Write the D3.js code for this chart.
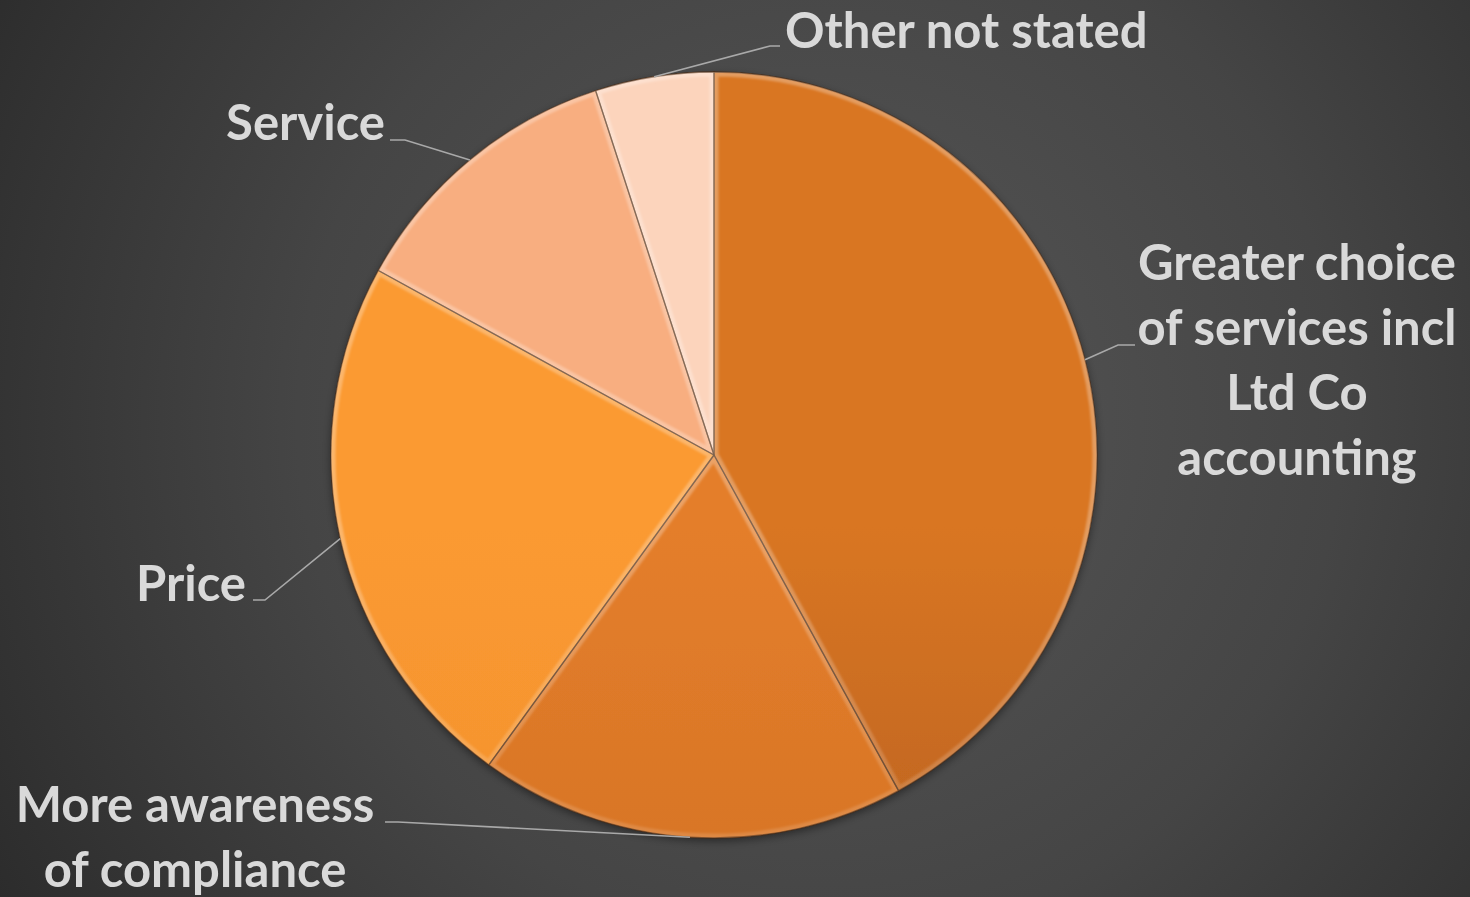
<!DOCTYPE html>
<html>
<head>
<meta charset="utf-8">
<script src="https://cdn.jsdelivr.net/npm/d3@7"></script>
<style>
  html, body { margin: 0; padding: 0; background: #3a3a3a; overflow: hidden; }
  svg { display: block; }
</style>
</head>
<body>
<svg id="chart" width="1470" height="897"></svg>
<script>
// ---- data ----
const categories = [
  "Greater choice of services incl Ltd Co accounting",
  "More awareness of compliance",
  "Price",
  "Service",
  "Other not stated"
];
const values = [42, 18, 23, 12, 5];
const labelLines = [
  ["Greater choice", "of services incl", "Ltd Co", "accounting"],
  ["More awareness", "of compliance"],
  ["Price"],
  ["Service"],
  ["Other not stated"]
];
const sliceTop = ["#D97623", "#E47E2B", "#FB9A31", "#F8AE80", "#FCD4BC"];
const sliceBottom = ["#9E5019", "#C86A20", "#EA882A", "#DE946A", "#D6B09B"];

// ---- layout (positions kept separate from data) ----
const W = 1470, H = 897;
const cx = 714, cy = 455, R = 383;
const fontSize = 49, lineH = 65;
const labelLayout = [
  { x: 1297, y: 280, anchor: "middle", elbow: [1118, 345], end: [1135, 345] },
  { x: 195, y: 822, anchor: "middle", elbow: [398, 822], end: [385, 822] },
  { x: 246, y: 601, anchor: "end", elbow: [265, 600], end: [253, 600] },
  { x: 385, y: 140, anchor: "end", elbow: [405, 140], end: [390, 140] },
  { x: 785, y: 48, anchor: "start", elbow: [770, 46], end: [780, 46] }
];

const svg = d3.select("#chart");
const defs = svg.append("defs");

// background
const bg = defs.append("radialGradient").attr("id", "bg")
  .attr("gradientUnits", "userSpaceOnUse")
  .attr("cx", 820).attr("cy", 420).attr("r", 950);
bg.append("stop").attr("offset", 0).attr("stop-color", "#575757");
bg.append("stop").attr("offset", 0.55).attr("stop-color", "#454545");
bg.append("stop").attr("offset", 1).attr("stop-color", "#2c2c2c");
svg.append("rect").attr("width", W).attr("height", H).attr("fill", "url(#bg)");

// slice gradients
sliceTop.forEach((c, i) => {
  const g = defs.append("linearGradient").attr("id", "sg" + i)
    .attr("gradientUnits", "userSpaceOnUse")
    .attr("x1", 0).attr("y1", cy - R).attr("x2", 0).attr("y2", cy + R);
  g.append("stop").attr("offset", 0).attr("stop-color", c);
  g.append("stop").attr("offset", 1).attr("stop-color", sliceBottom[i]);
});
// bevel gradient
const bev = defs.append("linearGradient").attr("id", "bev")
  .attr("gradientUnits", "userSpaceOnUse")
  .attr("x1", 0).attr("y1", cy - R).attr("x2", 0).attr("y2", cy + R);
bev.append("stop").attr("offset", 0).attr("stop-color", "#fff").attr("stop-opacity", 0.28);
bev.append("stop").attr("offset", 0.5).attr("stop-color", "#fff").attr("stop-opacity", 0.1);
bev.append("stop").attr("offset", 1).attr("stop-color", "#000").attr("stop-opacity", 0.2);

const blur = defs.append("filter").attr("id", "soft")
  .attr("x", "-5%").attr("y", "-5%").attr("width", "110%").attr("height", "110%");
blur.append("feGaussianBlur").attr("stdDeviation", 1.2);

const shadow = defs.append("filter").attr("id", "shadow")
  .attr("x", "-10%").attr("y", "-10%").attr("width", "120%").attr("height", "120%");
shadow.append("feDropShadow").attr("dx", 0).attr("dy", 3).attr("stdDeviation", 4)
  .attr("flood-color", "#000").attr("flood-opacity", 0.45);

const pie = d3.pie().sort(null).value(d => d)
  .startAngle(0).endAngle(2 * Math.PI);
const arcs = pie(values);
const arc = d3.arc().innerRadius(0).outerRadius(R);

const g = svg.append("g").attr("transform", `translate(${cx},${cy})`);

arcs.forEach((a, i) => {
  defs.append("clipPath").attr("id", "clip" + i)
    .append("path").attr("d", arc(a)).attr("transform", `translate(${cx},${cy})`);
});

const slices = g.append("g").attr("filter", "url(#shadow)");
slices.selectAll("path.slice").data(arcs).join("path")
  .attr("class", "slice")
  .attr("d", arc)
  .attr("fill", (d, i) => `url(#sg${i})`);

// bevel strokes clipped to each slice
const bevG = svg.append("g");
arcs.forEach((a, i) => {
  bevG.append("g").attr("clip-path", `url(#clip${i})`)
    .append("path")
    .attr("transform", `translate(${cx},${cy})`)
    .attr("d", arc(a))
    .attr("fill", "none")
    .attr("stroke", "url(#bev)")
    .attr("stroke-width", 9)
    .attr("filter", "url(#soft)");
});
g.append("g").selectAll("path.edge").data(arcs).join("path")
  .attr("class", "edge")
  .attr("d", arc)
  .attr("fill", "none")
  .attr("stroke", "#4e2a0e")
  .attr("stroke-opacity", 0.7)
  .attr("stroke-width", 1.3)
  .attr("stroke-linejoin", "round");

// leader lines
const leaders = svg.append("g");
arcs.forEach((a, i) => {
  const mid = (a.startAngle + a.endAngle) / 2;
  const px = cx + R * Math.sin(mid), py = cy - R * Math.cos(mid);
  const L = labelLayout[i];
  leaders.append("polyline")
    .attr("points", [[px, py], L.elbow, L.end].map(p => p.join(",")).join(" "))
    .attr("fill", "none")
    .attr("stroke", "#A9A9A9")
    .attr("stroke-width", 1.6);
});

// labels
const labels = svg.append("g")
  .attr("font-family", "Lato, 'Open Sans', sans-serif")
  .attr("font-weight", 700)
  .attr("font-size", fontSize)
  .attr("fill", "#D9D9D9");
labelLines.forEach((lines, i) => {
  const L = labelLayout[i];
  const t = labels.append("text")
    .attr("text-anchor", L.anchor)
    .attr("x", L.x).attr("y", L.y);
  lines.forEach((ln, j) => {
    t.append("tspan").attr("x", L.x).attr("y", L.y + j * lineH).text(ln);
  });
});
</script>
</body>
</html>
